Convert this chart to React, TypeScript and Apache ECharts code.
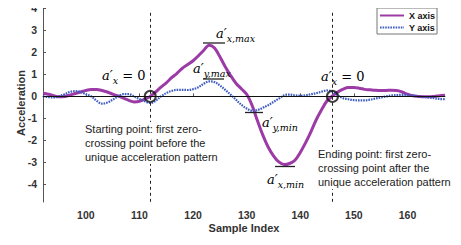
import React, { useEffect, useRef } from "react";
import * as echarts from "echarts";

// Sample index of the first value in each series
const startIndex = 92;

// X-axis acceleration (purple), samples 92..167
const xAxisAccel = [
  0.14, 0.10, 0.03, -0.02, 0.00, 0.06, 0.13, 0.20,
  0.27, 0.31, 0.31, 0.27, 0.20, 0.10, 0.02, -0.08, -0.18, -0.25,
  -0.22, -0.12, 0.00, 0.20, 0.42, 0.62, 0.85, 1.05, 1.28, 1.45,
  1.62, 1.85, 2.10, 2.33, 2.20, 1.80, 1.35, 0.95, 0.60, 0.35,
  0.10, -0.40, -1.10, -1.75, -2.30, -2.70, -2.98, -3.10, -3.05, -2.90,
  -2.55, -2.10, -1.60, -1.05, -0.60, -0.20, 0.02, 0.20, 0.33, 0.40,
  0.40, 0.37, 0.32, 0.30, 0.28, 0.27, 0.27, 0.28, 0.27, 0.20,
  0.10, 0.03, 0.00, -0.02, -0.02, 0.00, 0.03, 0.05,
];

// Y-axis acceleration (blue dotted), samples 92..167
const yAxisAccel = [
  0.00, -0.03, -0.05, 0.00, 0.10, 0.20, 0.24, 0.20,
  0.10, 0.00, -0.20, -0.33, -0.28, -0.15, 0.00, 0.10, 0.10, 0.00,
  -0.12, -0.22, -0.30, -0.20, 0.00, 0.15, 0.25, 0.30, 0.30, 0.29,
  0.33, 0.42, 0.58, 0.68, 0.65, 0.50, 0.30, 0.08, -0.15, -0.38,
  -0.55, -0.65, -0.62, -0.52, -0.40, -0.25, -0.10, 0.05, 0.08, 0.05,
  0.03, 0.05, 0.10, 0.15, 0.22, 0.27, 0.22, 0.05, -0.08, -0.13,
  -0.17, -0.18, -0.18, -0.15, -0.10, -0.05, 0.00, 0.04, 0.06, 0.07,
  0.07, 0.04, 0.00, -0.02, -0.05, -0.08, -0.12, -0.13,
];

// Zero-crossing start / end sample indices
const zeroCrossings = [112, 146];

// Tick values
const xTicks = [100, 110, 120, 130, 140, 150, 160];
const yTicks = [-4, -3, -2, -1, 0, 1, 2, 3, 4];

const SANS = '"Liberation Sans", Arial, sans-serif';
const SERIF = '"DejaVu Serif", "Liberation Serif", serif';

const mathRich = {
  a: { fontFamily: SERIF, fontStyle: "italic" as const, fontSize: 13, color: "#333" },
  s: { fontFamily: SERIF, fontStyle: "italic" as const, fontSize: 9.5, color: "#333", padding: [9, 0, 0, 0] },
  e: { fontFamily: SERIF, fontSize: 13, color: "#333" },
};

function mathLabel(sub: string, tail: string, x: number, y: number) {
  return {
    type: "text",
    x,
    y,
    z: 20,
    style: {
      text: `{a|a′}{s|${sub}}` + (tail ? `{e|${tail}}` : ""),
      rich: mathRich,
    },
  };
}

function bar(x1: number, x2: number, y: number) {
  return {
    type: "line",
    z: 20,
    shape: { x1, y1: y, x2, y2: y },
    style: { stroke: "#222", lineWidth: 1.3 },
  };
}

export default function App() {
  const ref = useRef<HTMLDivElement>(null);

  useEffect(() => {
    if (!ref.current) return;
    const chart = echarts.init(ref.current, null, { renderer: "svg" });
    const toPairs = (vals: number[]) => vals.map((v, i) => [startIndex + i, v]);

    const axisColor = "#555";
    chart.setOption({
      animation: false,
      backgroundColor: "#fff",
      grid: { left: 43, right: 16, top: 4, bottom: 43 },
      legend: {
        data: ["X axis", "Y axis"],
        orient: "vertical",
        left: 377,
        top: 8,
        itemWidth: 24,
        itemHeight: 2,
        itemGap: 3,
        padding: [3, 2, 2, 2],
        borderColor: "#777",
        borderWidth: 1,
        backgroundColor: "#fff",
        itemStyle: { opacity: 0 },
        textStyle: { fontFamily: SANS, fontWeight: "bold", fontSize: 9, color: "#111" },
      },
      xAxis: {
        type: "value",
        min: 92,
        max: 167,
        name: "Sample Index",
        nameLocation: "middle",
        nameGap: 20,
        nameMoveOverlap: false,
        nameTextStyle: { fontFamily: SANS, fontWeight: "bold", fontSize: 11, color: "#333" },
        axisLine: { show: true, lineStyle: { color: axisColor, width: 1 } },
        axisTick: { show: true, inside: true, length: 3, customValues: xTicks, lineStyle: { color: axisColor } },
        axisLabel: { customValues: xTicks, fontFamily: SANS, fontWeight: "bold", fontSize: 10.5, color: "#333", margin: 7 },
        splitLine: { show: false },
      },
      yAxis: {
        type: "value",
        min: -4.8,
        max: 4.2,
        name: "Acceleration",
        nameLocation: "middle",
        nameGap: 17,
        nameMoveOverlap: false,
        nameTextStyle: { fontFamily: SANS, fontWeight: "bold", fontSize: 11, color: "#333" },
        axisLine: { show: true, lineStyle: { color: axisColor, width: 1 } },
        axisTick: { show: true, inside: true, length: 3, customValues: yTicks, lineStyle: { color: axisColor } },
        axisLabel: { customValues: yTicks, fontFamily: SANS, fontWeight: "bold", fontSize: 10.5, color: "#333", margin: 6 },
        splitLine: { show: false },
      },
      series: [
        {
          name: "guides",
          type: "line",
          data: [],
          z: 1,
          silent: true,
          markLine: {
            silent: true,
            symbol: "none",
            label: { show: false },
            lineStyle: { color: "#222", width: 1, type: [3, 3] },
            data: [
              { yAxis: 0, lineStyle: { color: "#111", width: 1, type: "solid" } },
              ...zeroCrossings.map((c) => [{ coord: [c, 3.8] }, { coord: [c, -4.8] }]),
            ],
          },
        },
        {
          name: "X axis",
          type: "line",
          data: toPairs(xAxisAccel),
          smooth: 0.35,
          symbol: "none",
          z: 3,
          itemStyle: { color: "#9c3aa6" },
          lineStyle: { color: "#9c3aa6", width: 3 },
        },
        {
          name: "Y axis",
          type: "line",
          data: toPairs(yAxisAccel),
          smooth: 0.35,
          symbol: "none",
          z: 4,
          itemStyle: { color: "#3d5cc0" },
          lineStyle: { color: "#3d5cc0", width: 2.2, type: [1.6, 1] },
        },
        {
          name: "crossings",
          type: "scatter",
          data: zeroCrossings.map((c) => [c, 0]),
          symbol: "circle",
          symbolSize: 11,
          z: 10,
          itemStyle: { color: "rgba(0,0,0,0)", borderColor: "#111", borderWidth: 2 },
        },
      ],
      graphic: [
        {
          type: "text",
          x: 85,
          y: 122,
          z: 15,
          style: {
            text: "Starting point: first zero-\ncrossing point before the\nunique acceleration pattern",
            font: `11px ${SANS}`,
            fill: "#222",
            lineHeight: 14,
            backgroundColor: "#fff",
          },
        },
        {
          type: "text",
          x: 318,
          y: 147,
          z: 15,
          style: {
            text: "Ending point: first zero-\ncrossing point after the\nunique acceleration pattern",
            font: `11px ${SANS}`,
            fill: "#222",
            lineHeight: 14,
            backgroundColor: "#fff",
          },
        },
        mathLabel("x", " = 0", 102, 66),
        mathLabel("x", " = 0", 321, 67),
        mathLabel("x,max", "", 216, 24),
        mathLabel("y,max", "", 193, 59),
        mathLabel("y,min", "", 262, 113),
        mathLabel("x,min", "", 267, 170),
        bar(203, 225, 43),
        bar(203, 224, 79),
        bar(245, 263, 112.5),
        bar(275, 295, 166.5),
      ],
    });
    return () => chart.dispose();
  }, []);

  return <div ref={ref} style={{ width: 461, height: 245, margin: -8 }} />;
}
